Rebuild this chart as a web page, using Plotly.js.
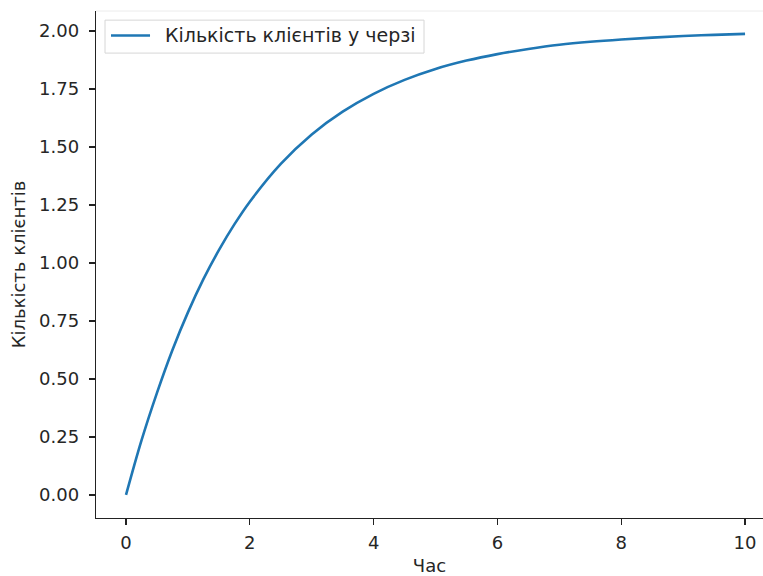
<!DOCTYPE html>
<html>
<head>
<meta charset="utf-8">
<script src="https://cdn.plot.ly/plotly-3.0.1.min.js"></script>
<style>html,body{margin:0;padding:0;background:#fff;overflow:hidden}</style>
</head>
<body>
<div id="chart" style="width:763px;height:576px"></div>
<script>
const timeValues = [0, 0.25, 0.5, 0.75, 1, 1.25, 1.5, 1.75, 2, 2.5, 3, 3.5, 4, 4.5, 5, 5.5, 6, 6.5, 7, 7.5, 8, 8.5, 9, 9.5, 10];
const queueValues = [0, 0.235, 0.44, 0.625, 0.787, 0.93, 1.055, 1.166, 1.264, 1.427, 1.554, 1.652, 1.729, 1.789, 1.836, 1.872, 1.90, 1.922, 1.94, 1.953, 1.963, 1.971, 1.978, 1.983, 1.987];
const seriesName = 'Кількість клієнтів у черзі';
const xTitle = 'Час';
const yTitle = 'Кількість клієнтів';

const font = 'DejaVu Sans, sans-serif';
const textColor = '#262626';
const lineColor = '#1f77b4';
const fs = 18;

Plotly.newPlot('chart', [{
  x: timeValues,
  y: queueValues,
  type: 'scatter',
  mode: 'lines',
  name: seriesName,
  line: {color: lineColor, width: 2.6, shape: 'spline', smoothing: 1}
}], {
  width: 763, height: 576,
  margin: {l: 96, r: 0, t: 11, b: 58},
  paper_bgcolor: '#fff', plot_bgcolor: '#fff',
  font: {family: font, size: fs, color: textColor},
  showlegend: false,
  xaxis: {
    range: [-0.485, 10.29],
    dtick: 2, tick0: 0,
    showgrid: false, zeroline: false,
    showline: true, linecolor: '#222', linewidth: 1.3,
    ticks: 'outside', ticklen: 6, tickwidth: 1.3, tickcolor: '#222',
    ticklabelstandoff: 2,
    tickfont: {family: font, size: fs, color: textColor},
    title: {text: xTitle, font: {family: font, size: fs, color: textColor}, standoff: 10}
  },
  yaxis: {
    range: [-0.0993, 2.0858],
    dtick: 0.25, tick0: 0, tickformat: '.2f',
    showgrid: false, zeroline: false,
    showline: true, linecolor: '#222', linewidth: 1.3,
    ticks: 'outside', ticklen: 6, tickwidth: 1.3, tickcolor: '#222',
    ticklabelstandoff: 6,
    tickfont: {family: font, size: fs, color: textColor},
    title: {text: yTitle, font: {family: font, size: fs, color: textColor}, standoff: 8}
  },
  shapes: [
    {type: 'line', xref: 'paper', yref: 'paper', x0: 0, x1: 1, y0: 1, y1: 1,
     line: {color: '#ececec', width: 1}},
    {type: 'rect', xref: 'paper', yref: 'paper', x0: 0.0135, x1: 0.4918, y0: 0.917, y1: 0.982,
     fillcolor: 'rgba(255,255,255,0.8)', line: {color: '#d6d6d6', width: 1}},
    {type: 'line', xref: 'paper', yref: 'paper', x0: 0.0225, x1: 0.081, y0: 0.9517, y1: 0.9517,
     line: {color: lineColor, width: 2.6}}
  ],
  annotations: [
    {xref: 'paper', yref: 'paper', x: 0.1000, y: 0.9517, xanchor: 'left', yanchor: 'middle',
     text: seriesName, showarrow: false, font: {family: font, size: 19, color: textColor}}
  ]
}, {displayModeBar: false, staticPlot: true});
</script>
</body>
</html>
